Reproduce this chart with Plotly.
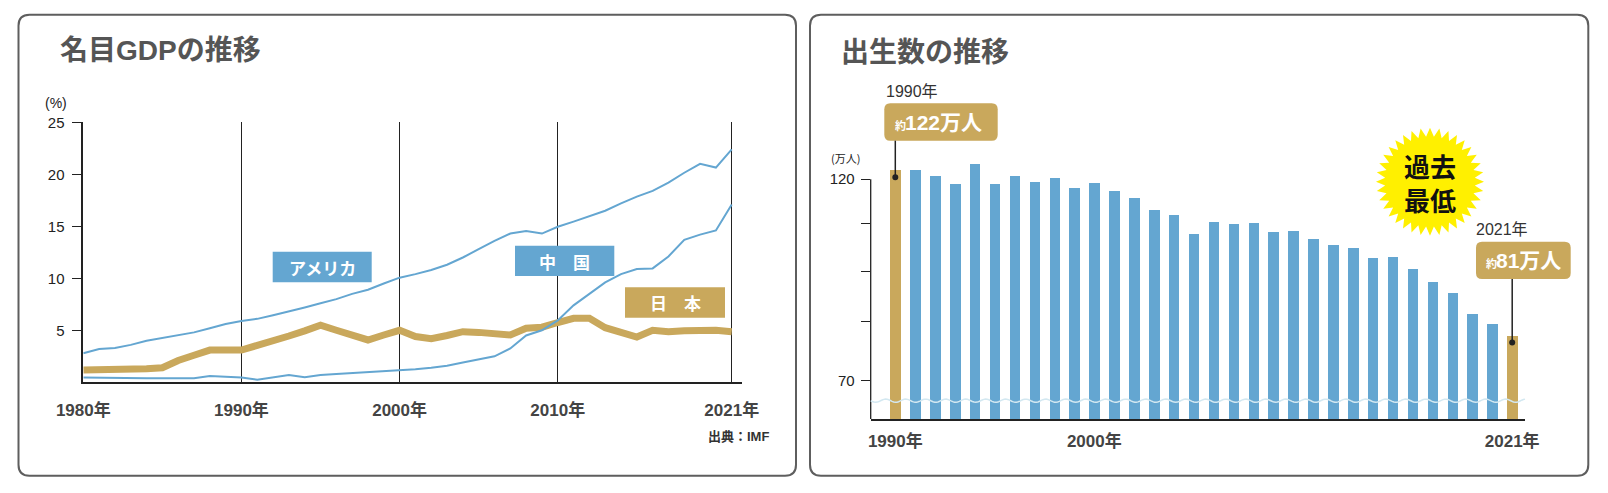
import numpy as np
import plotly.graph_objects as go

W, H = 1608, 493
def X(p): return p / W
def Y(p): return 1 - p / H

# ---------------- data ----------------
years = list(range(1980, 2022))
usa = [2.8, 3.2, 3.3, 3.6, 4.0, 4.25, 4.5, 4.8, 5.2, 5.6, 5.9, 6.1, 6.45, 6.8, 7.2, 7.6, 8.0, 8.5, 8.9, 9.5,
       10.06, 10.4, 10.8, 11.3, 12.0, 12.8, 13.6, 14.3, 14.55, 14.3, 14.96, 15.45, 15.95, 16.5, 17.2, 17.85,
       18.4, 19.2, 20.15, 21.0, 20.65, 22.4]
china = [0.45, 0.42, 0.4, 0.4, 0.38, 0.38, 0.35, 0.38, 0.6, 0.55, 0.45, 0.25, 0.45, 0.7, 0.48, 0.7, 0.8,
         0.88, 0.95, 1.02, 1.1, 1.25, 1.4, 1.6, 1.9, 2.2, 2.5, 3.25, 4.5, 5.0, 5.95, 7.4, 8.5, 9.6, 10.4,
         10.9, 10.95, 12.1, 13.7, 14.2, 14.6, 17.1]
japan = [1.18, 1.22, 1.1, 1.2, 1.3, 1.4, 2.1, 2.6, 3.1, 3.1, 3.1, 3.55, 3.95, 4.45, 4.95, 5.5, 5.0, 4.5,
         4.07, 4.55, 5.0, 4.4, 4.2, 4.5, 4.87, 4.8, 4.6, 4.55, 5.2, 5.3, 5.75, 6.15, 6.15, 5.25, 4.8, 4.35,
         5.0, 4.87, 4.95, 5.05, 5.0, 4.87]
gdp_ticks = [1980, 1990, 2000, 2010, 2021]
gdp_ticktext = ["1980年", "1990年", "2000年", "2010年", "2021年"]

birth_years = list(range(1990, 2022))
births = [122.2, 122.3, 120.9, 118.8, 123.8, 118.7, 120.7, 119.2, 120.3, 117.8, 119.1, 117.1, 115.4,
          112.4, 111.1, 106.3, 109.3, 109.0, 109.1, 107.0, 107.1, 105.1, 103.7, 103.0, 100.4, 100.6,
          97.7, 94.6, 91.8, 86.5, 84.1, 81.2]
birth_ticks = [1990, 2000, 2021]
birth_ticktext = ["1990年", "2000年", "2021年"]

BLUE = "#64a6d1"
GOLD = "#c9a85c"
FONT = "Liberation Sans, Noto Sans CJK JP, sans-serif"
CJK = "Noto Sans CJK JP, sans-serif"

# ---------------- geometry ----------------
# left chart
LX0, LX1 = 83.3, 741.7
LPY = 15.815
LYB, LYT = 382.3, 122.3
lx_range = [1980, 1980 + (LX1 - LX0) / LPY]
# right chart
RX0, RX1 = 870.7, 1525.0
RPITCH = 19.9
RX1990 = 895.3
RYB, RYT = 419.0, 150.0
RPXU = 4.03
RBASE = 60.5
rx_range = [1990 - (RX1990 - RX0) / RPITCH, 1990 + (RX1 - RX1990) / RPITCH]
ry_range = [RBASE, RBASE + (RYB - RYT) / RPXU]
def rx(yr): return RX1990 + (yr - 1990) * RPITCH
def ry(v): return RYB - (v - RBASE) * RPXU

fig = go.Figure()

# left lines
fig.add_trace(go.Scatter(x=years, y=japan, mode="lines", line=dict(color=GOLD, width=7),
                         xaxis="x", yaxis="y", hoverinfo="skip"))
fig.add_trace(go.Scatter(x=years, y=china, mode="lines", line=dict(color=BLUE, width=2),
                         xaxis="x", yaxis="y", hoverinfo="skip"))
fig.add_trace(go.Scatter(x=years, y=usa, mode="lines", line=dict(color=BLUE, width=2),
                         xaxis="x", yaxis="y", hoverinfo="skip"))

# right bars
bar_colors = [GOLD if (y == birth_years[0] or y == birth_years[-1]) else BLUE for y in birth_years]
fig.add_trace(go.Bar(x=birth_years, y=births, marker=dict(color=bar_colors, line=dict(width=0)),
                     width=0.53, xaxis="x2", yaxis="y2", hoverinfo="skip"))

shapes = []

def rrect_path(x0, y0, x1, y1, r):
    pts = [
        f"M {X(x0 + r)},{Y(y0)}", f"L {X(x1 - r)},{Y(y0)}", f"Q {X(x1)},{Y(y0)} {X(x1)},{Y(y0 + r)}",
        f"L {X(x1)},{Y(y1 - r)}", f"Q {X(x1)},{Y(y1)} {X(x1 - r)},{Y(y1)}",
        f"L {X(x0 + r)},{Y(y1)}", f"Q {X(x0)},{Y(y1)} {X(x0)},{Y(y1 - r)}",
        f"L {X(x0)},{Y(y0 + r)}", f"Q {X(x0)},{Y(y0)} {X(x0 + r)},{Y(y0)}", "Z"]
    return " ".join(pts)

# panels
for (x0, x1) in [(18.5, 796.0), (810.0, 1588.3)]:
    shapes.append(dict(type="path", path=rrect_path(x0, 14.8, x1, 475.7, 11), xref="paper", yref="paper",
                       line=dict(color="#5e5e5e", width=2), fillcolor="rgba(0,0,0,0)", layer="below"))

# left label boxes
for (x0, y0, x1, y1, c) in [(272.7, 251.7, 371.7, 282.3, BLUE), (515.0, 245.7, 614.3, 276.0, BLUE),
                            (625.0, 287.3, 725.0, 317.7, GOLD)]:
    shapes.append(dict(type="rect", x0=X(x0), x1=X(x1), y0=Y(y1), y1=Y(y0), xref="paper", yref="paper",
                       fillcolor=c, line=dict(width=0)))

# right y-axis line (from base up to 120)
shapes.append(dict(type="line", xref="paper", yref="y2", x0=X(RX0), x1=X(RX0), y0=RBASE, y1=120,
                   line=dict(color="#222", width=1.3)))

# wavy break line
wx = np.linspace(RX0, RX1, 400)
wy = 400.7 + 1.6 * np.sin(2 * np.pi * (wx - RX0) / 20.0)
wpath = "M " + " L ".join(f"{X(a):.5f},{Y(b):.5f}" for a, b in zip(wx, wy))
shapes.append(dict(type="path", path=wpath, xref="paper", yref="paper",
                   line=dict(color="#d3e8f1", width=1.5)))

# starburst
cx, cy, R1, R2, n = 1430.0, 181.7, 54.0, 45.0, 36
pts = []
for i in range(2 * n):
    a = np.pi * i / n - np.pi / 2
    rr = R1 if i % 2 == 0 else R2
    pts.append((cx + rr * np.cos(a), cy + rr * np.sin(a)))
spath = "M " + " L ".join(f"{X(a):.5f},{Y(b):.5f}" for a, b in pts) + " Z"
shapes.append(dict(type="path", path=spath, xref="paper", yref="paper",
                   fillcolor="#fff000", line=dict(width=0)))

# right callout boxes
shapes.append(dict(type="path", path=rrect_path(884.3, 103.3, 997.7, 140.7, 6), xref="paper", yref="paper",
                   fillcolor=GOLD, line=dict(width=0)))
shapes.append(dict(type="path", path=rrect_path(1476.0, 241.7, 1570.7, 279.0, 6), xref="paper", yref="paper",
                   fillcolor=GOLD, line=dict(width=0)))
# leader lines + dots
for (yr, v, ytop) in [(birth_years[0], births[0], 140.7), (birth_years[-1], births[-1], 279.0)]:
    bx = rx(yr)
    dy = ry(v) + 7
    shapes.append(dict(type="line", xref="paper", yref="paper", x0=X(bx), x1=X(bx), y0=Y(ytop), y1=Y(dy),
                       line=dict(color="#222", width=1.5)))
    shapes.append(dict(type="circle", xref="paper", yref="paper", x0=X(bx - 3), x1=X(bx + 3),
                       y0=Y(dy + 3), y1=Y(dy - 3), fillcolor="#222", line=dict(width=0)))

ann = []
def txt(x, y, s, size, color, xanchor="center", family=FONT, bold=False):
    ann.append(dict(x=X(x), y=Y(y), xref="paper", yref="paper", text=(f"<b>{s}</b>" if bold else s),
                    showarrow=False, xanchor=xanchor, yanchor="middle", borderpad=0,
                    font=dict(size=size, color=color, family=family)))

txt(59, 50.5, "名目GDPの推移", 28, "#555", "left", bold=True)
txt(840, 50.5, "出生数の推移", 28, "#555", "left", family=CJK, bold=True)
txt(56, 103, "(%)", 14, "#222")
txt(830, 158, "(万人)", 11, "#222", "left", family=CJK)
txt(770, 436, "出典：IMF", 13, "#333", "right", bold=True)

txt(322, 267, "アメリカ", 17, "white", family=CJK, bold=True)
txt(564.7, 261, "中　国", 17, "white", family=CJK, bold=True)
txt(675, 302.5, "日　本", 17, "white", family=CJK, bold=True)

txt(885, 91.5, "1990年", 16, "#333", "left")
txt(907, 125, "約", 11, "white", "right", family=CJK, bold=True)
txt(904, 122, "122万人", 21, "white", "left", bold=True)
txt(1475, 230, "2021年", 16, "#333", "left")
txt(1498, 263, "約", 11, "white", "right", family=CJK, bold=True)
txt(1495, 260.5, "81万人", 21, "white", "left", bold=True)

txt(1430, 182.5, "過去<br>最低", 26, "#111", family=CJK, bold=True)

fig.update_layout(
    width=W, height=H, margin=dict(l=0, r=0, t=0, b=0, autoexpand=False),
    paper_bgcolor="white", plot_bgcolor="rgba(0,0,0,0)", showlegend=False,
    shapes=shapes, annotations=ann, bargap=0,
    xaxis=dict(domain=[X(LX0), X(LX1)], range=lx_range, tickvals=gdp_ticks, ticktext=gdp_ticktext,
               showgrid=True, gridcolor="#222", gridwidth=1, showline=True, linecolor="#222", linewidth=1.5,
               ticks="", zeroline=False, ticklabelstandoff=12, automargin=False,
               tickfont=dict(size=17, color="#444", family=FONT, weight="bold"), anchor="y"),
    yaxis=dict(domain=[Y(LYB), Y(LYT)], range=[0, 25], tickvals=[5, 10, 15, 20, 25],
               showgrid=False, showline=True, linecolor="#222", linewidth=1.5, zeroline=False,
               ticks="outside", ticklen=10, tickcolor="#222", tickwidth=1.2, ticklabelstandoff=4,
               automargin=False, tickfont=dict(size=15, color="#222", family=FONT), anchor="x"),
    xaxis2=dict(domain=[X(RX0), X(RX1)], range=rx_range, tickvals=birth_ticks, ticktext=birth_ticktext,
                showgrid=False, showline=True, linecolor="#222", linewidth=1.5, ticks="", zeroline=False,
                ticklabelstandoff=6, automargin=False,
                tickfont=dict(size=17, color="#444", family=FONT, weight="bold"), anchor="y2"),
    yaxis2=dict(domain=[Y(RYB), Y(RYT)], range=ry_range, tickvals=[70, 84.65, 96.98, 109.06, 120],
                ticktext=["70", "", "", "", "120"], showgrid=False, showline=False, zeroline=False,
                ticks="outside", ticklen=9, tickcolor="#222", tickwidth=1.2, ticklabelstandoff=3,
                automargin=False, tickfont=dict(size=15, color="#222", family=FONT), anchor="x2"),
)

fig.write_html("out.html", config={"displayModeBar": False},
               post_script="document.body.style.margin='0';document.body.style.padding='0';")
